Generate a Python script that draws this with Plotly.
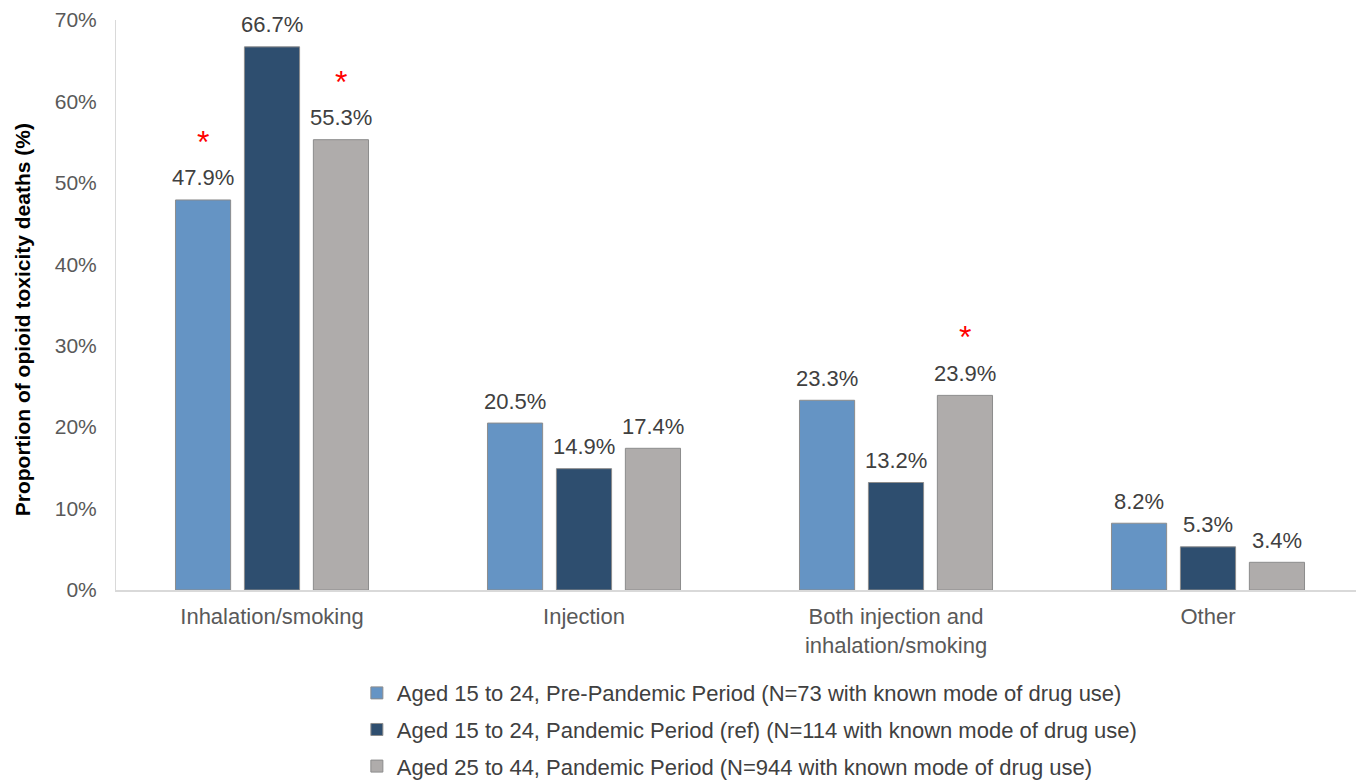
import plotly.graph_objects as go

categories = ["Inhalation/smoking", "Injection", "Both injection and<br>inhalation/smoking", "Other"]
series_names = [
    "Aged 15 to 24, Pre-Pandemic Period (N=73 with known mode of drug use)",
    "Aged 15 to 24, Pandemic Period (ref) (N=114 with known mode of drug use)",
    "Aged 25 to 44, Pandemic Period (N=944 with known mode of drug use)",
]
pre_15_24 = [47.9, 20.5, 23.3, 8.2]
pan_15_24 = [66.7, 14.9, 13.2, 5.3]
pan_25_44 = [55.3, 17.4, 23.9, 3.4]
significant = [
    [True, False, False, False],
    [False, False, False, False],
    [True, False, True, False],
]
colors = ["#6594C4", "#2E4E6F", "#AFACAB"]
y_ticks = [0, 10, 20, 30, 40, 50, 60, 70]

FONT = "Arial, Liberation Sans, sans-serif"
values = [pre_15_24, pan_15_24, pan_25_44]

fig = go.Figure()
for i, (name, vals, col) in enumerate(zip(series_names, values, colors)):
    fig.add_trace(go.Bar(
        x=categories, y=vals, name=name, legendgroup=f"g{i}",
        marker=dict(color=col, line=dict(color="#8C8C8C", width=1)),
        cliponaxis=False,
    ))

n = len(values)
bar_step = 69
for i, (vals, sig) in enumerate(zip(values, significant)):
    for c, v, s in zip(categories, vals, sig):
        xs = (i - (n - 1) / 2) * bar_step
        fig.add_annotation(
            x=c, y=v, xref="x", yref="y", text=f"{v:.1f}%", showarrow=False,
            xshift=xs, yshift=22, yanchor="middle",
            font=dict(family=FONT, size=22, color="#404040"),
        )
        if s:
            fig.add_annotation(
                x=c, y=v, xref="x", yref="y", text="*", showarrow=False,
                xshift=xs, yshift=58, yanchor="middle",
                font=dict(family=FONT, size=32, color="#FF0000"),
            )

fig.add_annotation(
    x=-0.075, y=0.474, xref="paper", yref="paper", textangle=-90,
    text="<b>Proportion of opioid toxicity deaths (%)</b>", showarrow=False,
    xanchor="center", yanchor="middle",
    font=dict(family=FONT, size=21, color="#000000"),
)

# page body has an 8px margin, so the figure is sized to fit the window
fig.update_layout(
    width=1356, height=774,
    margin=dict(l=108, r=0, t=12, b=192, autoexpand=False),
    paper_bgcolor="white", plot_bgcolor="white",
    barmode="group", bargap=0.337, bargroupgap=0.2,
    font=dict(family=FONT, color="#595959"),
    showlegend=True,
    legend=dict(
        orientation="v", x=0.193, xanchor="left", y=-0.144, yanchor="top",
        font=dict(family=FONT, size=22, color="#404040"),
        tracegroupgap=5, itemwidth=30,
    ),
)
fig.update_xaxes(
    showline=True, linecolor="#D9D9D9", linewidth=1.5, automargin=False,
    ticks="", tickfont=dict(family=FONT, size=22, color="#595959"),
    showgrid=False, ticklabelstandoff=6,
)
fig.update_yaxes(
    range=[0, 70], tickvals=y_ticks, ticktext=[f"{t}%" for t in y_ticks],
    showline=True, linecolor="#D9D9D9", linewidth=1, automargin=False,
    showgrid=False, zeroline=False, ticks="", ticklabelstandoff=14,
    tickfont=dict(family=FONT, size=21, color="#595959"),
)

fig.write_html("out.html")
